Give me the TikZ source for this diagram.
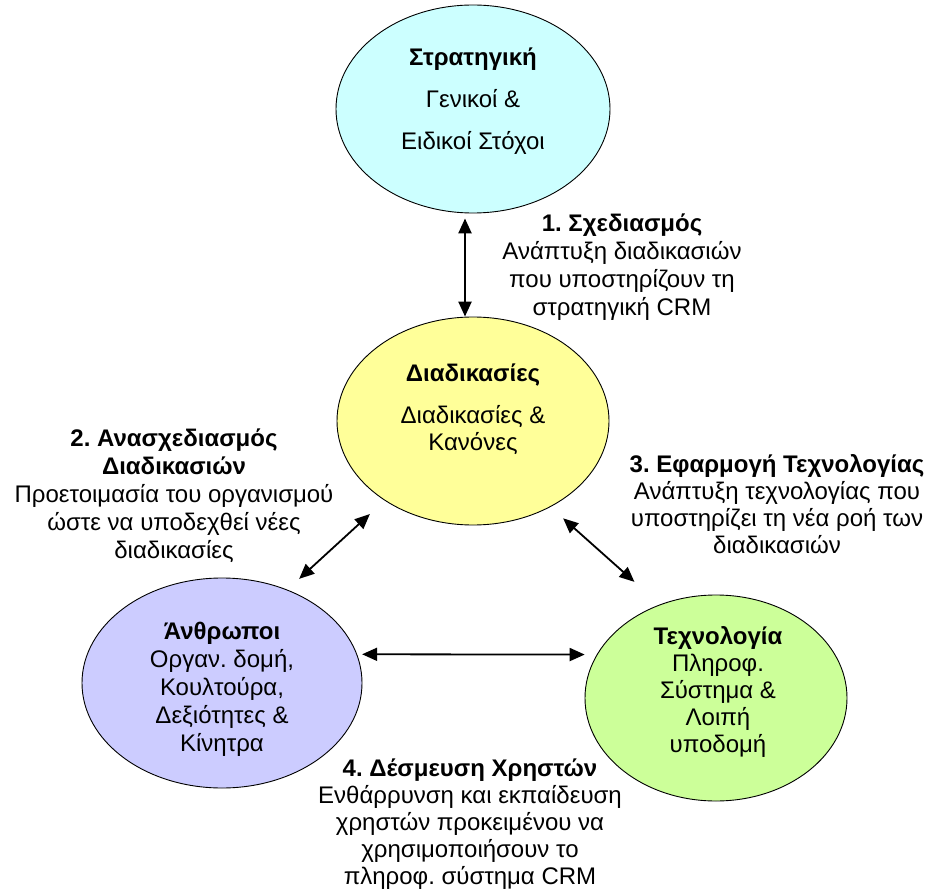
\documentclass[tikz,border=0pt]{standalone}
\usepackage{fontspec}
\setmainfont{Liberation Sans}
\usetikzlibrary{arrows.meta}
\usetikzlibrary{shapes.geometric}
\frenchspacing
\definecolor{stratfill}{HTML}{CCFFFF}
\definecolor{procfill}{HTML}{FFFF99}
\definecolor{peoplefill}{HTML}{CCCCFF}
\definecolor{techfill}{HTML}{CCFF99}
\tikzstyle{blob}=[ellipse, draw, line width=0.9pt, inner sep=0pt]
\tikzstyle{txt}=[align=center, anchor=north, inner sep=0pt, font=\fontsize{24}{27}\selectfont]
\tikzstyle{txtw}=[txt, font=\fontsize{24}{28}\selectfont]
\tikzstyle{link}=[line width=1.8pt, {Triangle[length=15pt,width=13pt]}-{Triangle[length=15pt,width=13pt]}]

\begin{document}
\begin{tikzpicture}[x=1pt,y=-1pt]
	\useasboundingbox (0,0) rectangle (928,890);
%
	\node[blob, fill=stratfill, minimum width=274pt, minimum height=208pt] (strat) at (473,109) {};
	\node[blob, fill=procfill, minimum width=272pt, minimum height=208pt] (proc) at (473,421) {};
	\node[blob, fill=peoplefill, minimum width=280pt, minimum height=210pt] (people) at (222,683) {};
	\node[blob, fill=techfill, minimum width=262pt, minimum height=206pt] (tech) at (716,698) {};
%
	\node[txtw] (strat-txt) at (473,48) {\textbf{Στρατηγική}\\[14pt] Γενικοί \&\\[14pt] Ειδικοί Στόχοι};
	\node[txt] (proc-txt) at (473,364) {\textbf{Διαδικασίες}\\[15pt] Διαδικασίες \&\\ Κανόνες};
	\node[txtw] (people-txt) at (222,622) {\textbf{Άνθρωποι}\\ Οργαν. δομή,\\ Κουλτούρα,\\ Δεξιότητες \&\\ Κίνητρα};
	\node[txt] (tech-txt) at (718,626) {\textbf{Τεχνολογία}\\ Πληροφ.\\ Σύστημα \&\\ Λοιπή\\ υποδομή};
%
	\node[txtw] (design) at (622,214) {\textbf{1. Σχεδιασμός}\\ Ανάπτυξη διαδικασιών\\ που υποστηρίζουν τη\\ στρατηγική CRM};
	\node[txtw] (redesign) at (174,429) {\textbf{2. Ανασχεδιασμός}\\ \textbf{Διαδικασιών}\\ Προετοιμασία του οργανισμού\\ ώστε να υποδεχθεί νέες\\ διαδικασίες};
	\node[txt] (apply) at (777,454) {\textbf{3. Εφαρμογή Τεχνολογίας}\\ Ανάπτυξη τεχνολογίας που\\ υποστηρίζει τη νέα ροή των\\ διαδικασιών};
	\node[txt] (commit) at (470,759) {\textbf{4. Δέσμευση Χρηστών}\\ Ενθάρρυνση και εκπαίδευση\\ χρηστών προκειμένου να\\ χρησιμοποιήσουν το\\ πληροφ. σύστημα CRM};
%
	\draw[link, line width=2.4pt, shorten <=5pt] ([xshift=-8pt]strat.south) -- ([xshift=-8pt]proc.north);
	\draw[link, shorten <=16pt, shorten >=20pt] (people.55) -- (proc.222);
	\draw[link, shorten <=17pt, shorten >=34pt] (proc.312) -- (tech.121);
	\draw[link, shorten <=5pt, shorten >=12pt] (people.12) -- (tech.160);
\end{tikzpicture}
\end{document}
